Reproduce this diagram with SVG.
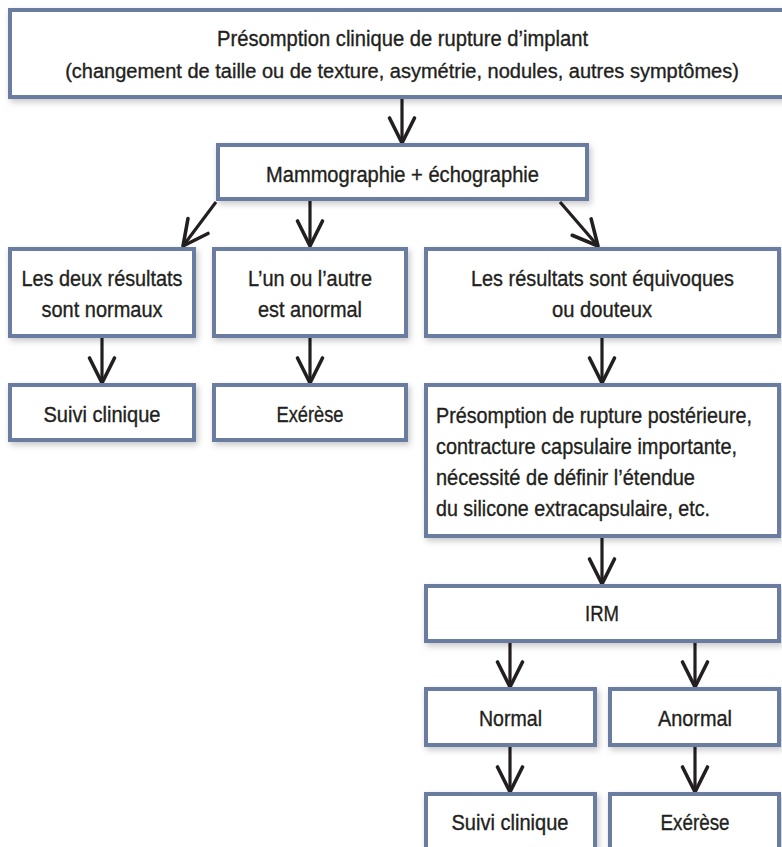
<svg xmlns="http://www.w3.org/2000/svg" width="782" height="847" viewBox="0 0 782 847">
<defs>
<filter id="sh" x="-10%" y="-20%" width="130%" height="150%">
<feDropShadow dx="2" dy="3" stdDeviation="3" flood-color="#000" flood-opacity="0.22"/>
</filter>
<marker id="ah" markerUnits="userSpaceOnUse" markerWidth="40" markerHeight="40" viewBox="-30 -20 40 40" refX="0" refY="0" orient="auto">
<path d="M-25 -12.5 L0 0 L-25 12.5" fill="none" stroke="#231f20" stroke-width="3.6" stroke-linejoin="round" stroke-linecap="round"/>
</marker>
<style>
.box{fill:#fff;stroke:#6a7ca0;stroke-width:4;filter:url(#sh)}
.t{font-family:"Liberation Sans",Arial,sans-serif;font-size:21.5px;fill:#231f20;stroke:#231f20;stroke-width:0.35}
.c{text-anchor:middle}
.con{stroke:#231f20;stroke-width:3.2;fill:none;marker-end:url(#ah)}
</style>
</defs>
<rect width="782" height="847" fill="#fff"/>
<g id="connectors">
<line class="con" x1="402" y1="99" x2="402" y2="143"/>
<line class="con" x1="216" y1="202" x2="183" y2="246"/>
<line class="con" x1="310" y1="201" x2="310" y2="246"/>
<line class="con" x1="560" y1="202" x2="598" y2="246"/>
<line class="con" x1="102" y1="338" x2="102" y2="383"/>
<line class="con" x1="310" y1="338" x2="310" y2="383"/>
<line class="con" x1="602" y1="338" x2="602" y2="383"/>
<line class="con" x1="602" y1="538" x2="602" y2="584"/>
<line class="con" x1="510" y1="643" x2="510" y2="687"/>
<line class="con" x1="695" y1="643" x2="695" y2="687"/>
<line class="con" x1="510" y1="747" x2="510" y2="792"/>
<line class="con" x1="695" y1="747" x2="695" y2="792"/>
</g>
<g id="n-top">
<rect class="box" x="10" y="10" width="775" height="87"/>
<text class="t c" x="402.5" y="46" textLength="371" lengthAdjust="spacingAndGlyphs">Présomption clinique de rupture d’implant</text>
<text class="t c" x="402" y="78" style="font-size:20px">(changement de taille ou de texture, asymétrie, nodules, autres symptômes)</text>
</g>
<g id="n-mammo">
<rect class="box" x="218" y="145" width="369" height="54"/>
<text class="t c" x="402.5" y="182" textLength="273" lengthAdjust="spacingAndGlyphs">Mammographie + échographie</text>
</g>
<g id="n-normaux">
<rect class="box" x="10" y="249" width="184" height="87"/>
<text class="t c" x="102" y="286" textLength="161" lengthAdjust="spacingAndGlyphs">Les deux résultats</text>
<text class="t c" x="102" y="317" textLength="121" lengthAdjust="spacingAndGlyphs">sont normaux</text>
</g>
<g id="n-anormal">
<rect class="box" x="214" y="249" width="192" height="87"/>
<text class="t c" x="310" y="286" textLength="124" lengthAdjust="spacingAndGlyphs">L’un ou l’autre</text>
<text class="t c" x="310" y="317" textLength="104" lengthAdjust="spacingAndGlyphs">est anormal</text>
</g>
<g id="n-equivoques">
<rect class="box" x="426" y="249" width="353" height="87"/>
<text class="t c" x="602.5" y="286" textLength="263" lengthAdjust="spacingAndGlyphs">Les résultats sont équivoques</text>
<text class="t c" x="602" y="317" textLength="100" lengthAdjust="spacingAndGlyphs">ou douteux</text>
</g>
<g id="n-suivi1">
<rect class="box" x="10" y="385" width="184" height="55"/>
<text class="t c" x="102" y="422" textLength="117" lengthAdjust="spacingAndGlyphs">Suivi clinique</text>
</g>
<g id="n-exerese1">
<rect class="box" x="214" y="385" width="192" height="55"/>
<text class="t c" x="310" y="422" textLength="67" lengthAdjust="spacingAndGlyphs">Exérèse</text>
</g>
<g id="n-presomption">
<rect class="box" x="426" y="385" width="353" height="151"/>
<text class="t" x="436" y="423" textLength="316" lengthAdjust="spacingAndGlyphs">Présomption de rupture postérieure,</text>
<text class="t" x="436" y="454" textLength="301" lengthAdjust="spacingAndGlyphs">contracture capsulaire importante,</text>
<text class="t" x="436" y="485" textLength="259" lengthAdjust="spacingAndGlyphs">nécessité de définir l’étendue</text>
<text class="t" x="436" y="516" textLength="274" lengthAdjust="spacingAndGlyphs">du silicone extracapsulaire, etc.</text>
</g>
<g id="n-irm">
<rect class="box" x="426" y="586" width="353" height="55"/>
<text class="t c" x="602" y="621" textLength="34" lengthAdjust="spacingAndGlyphs">IRM</text>
</g>
<g id="n-normal">
<rect class="box" x="426" y="689" width="169" height="56"/>
<text class="t c" x="510.5" y="726" textLength="63" lengthAdjust="spacingAndGlyphs">Normal</text>
</g>
<g id="n-anormal2">
<rect class="box" x="610" y="689" width="169" height="56"/>
<text class="t c" x="695" y="726" textLength="74" lengthAdjust="spacingAndGlyphs">Anormal</text>
</g>
<g id="n-suivi2">
<rect class="box" x="426" y="794" width="169" height="56"/>
<text class="t c" x="510" y="830" textLength="117" lengthAdjust="spacingAndGlyphs">Suivi clinique</text>
</g>
<g id="n-exerese2">
<rect class="box" x="610" y="794" width="169" height="56"/>
<text class="t c" x="695" y="830" textLength="69" lengthAdjust="spacingAndGlyphs">Exérèse</text>
</g>
</svg>
